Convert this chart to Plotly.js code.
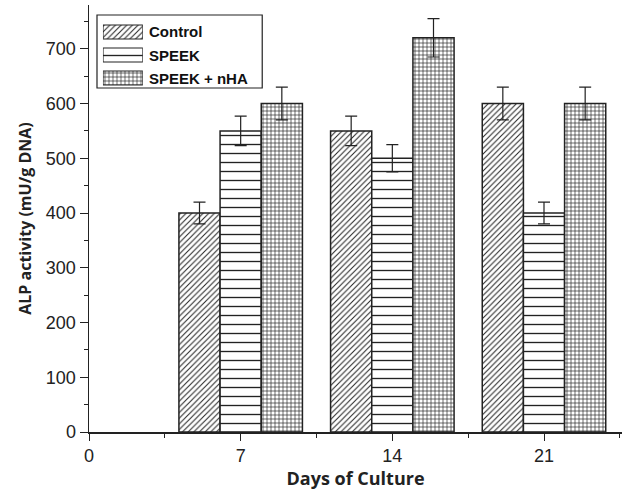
<!DOCTYPE html>
<html>
<head>
<meta charset="utf-8">
<script src="https://cdn.plot.ly/plotly-3.0.1.min.js"></script>
<style>html,body{margin:0;padding:0;background:#fff;}#chart{width:625px;height:490px;}</style>
</head>
<body>
<div id="chart"></div>
<script>
const days = [7, 14, 21];
const controlVals = [400, 550, 600];
const controlErr = [20, 27, 30];
const speekVals = [550, 500, 400];
const speekErr = [27, 25, 20];
const nhaVals = [600, 720, 600];
const nhaErr = [30, 35, 30];
const seriesNames = ['Control', 'SPEEK', 'SPEEK + nHA'];
const xTicks = [0, 7, 14, 21];
const yTicks = [0, 100, 200, 300, 400, 500, 600, 700];

const styles = [
  {offset: -2.85, shape: '/', size: 4, sol: 0.25},
  {offset: -0.95, shape: '-', size: 9, sol: 0.15},
  {offset: 0.95, shape: '+', size: 4, sol: 0.3}
];
function pat(s) {
  return {color: 'white', line: {color: '#222', width: 1.5},
    pattern: {shape: s.shape, size: s.size, solidity: s.sol, fgcolor: '#222', bgcolor: 'white'}};
}
function mk(i, vals, errs) {
  const s = styles[i];
  return {
    type: 'bar', name: seriesNames[i], x: days, y: vals,
    width: 1.9, offset: s.offset, showlegend: false,
    marker: pat(s),
    error_y: {type: 'data', array: errs, visible: true, color: '#222', thickness: 1.2, width: 6}
  };
}
const data = [
  mk(0, controlVals, controlErr),
  mk(1, speekVals, speekErr),
  mk(2, nhaVals, nhaErr)
];
// legend swatches (key only)
const rowY = [56, 33, 10];
const legY = [0.9368, 0.8829, 0.8290];
seriesNames.forEach((n, i) => {
  const m = pat(styles[i]); m.line.width = 1.2;
  data.push({type: 'bar', orientation: 'h', x: [1], y: [rowY[i]], width: 14,
    xaxis: 'x2', yaxis: 'y2', marker: m, showlegend: false, hoverinfo: 'skip'});
});
const annotations = seriesNames.map((n, i) => ({
  xref: 'paper', yref: 'paper', x: 0.108, y: legY[i], xanchor: 'left', yanchor: 'middle',
  text: n, showarrow: false, font: {family: 'Liberation Sans, Arial, sans-serif', size: 15, weight: 'bold', color: '#111'}
}));
const layout = {
  width: 625, height: 490,
  margin: {l: 89, r: 3, t: 5, b: 58},
  barmode: 'overlay',
  paper_bgcolor: 'white', plot_bgcolor: 'white',
  font: {family: 'Liberation Sans, Arial, sans-serif', color: '#222', size: 18},
  xaxis: {range: [0, 24.6], tickvals: xTicks, ticks: 'outside', ticklen: 7, tickcolor: '#222',
    tickfont: {size: 18, family: 'Liberation Sans, Arial, sans-serif'},
    showline: true, linecolor: '#222', linewidth: 1.5, showgrid: false, zeroline: false,
    minor: {tickvals: [3.5, 10.5, 17.5, 24.5], ticks: 'outside', ticklen: 4, tickcolor: '#222'},
    title: {text: 'Days of Culture', font: {family: 'Open Sans, sans-serif', size: 18, weight: 'bold'}, standoff: 4}},
  yaxis: {range: [0, 780], tickvals: yTicks, ticks: 'outside', ticklen: 8, tickcolor: '#222',
    tickfont: {size: 18, family: 'Liberation Sans, Arial, sans-serif'},
    showline: true, linecolor: '#222', linewidth: 1.5, showgrid: false, zeroline: false,
    minor: {dtick: 50, ticks: 'outside', ticklen: 4, tickcolor: '#222'},
    title: {text: 'ALP activity (mU/g DNA)', font: {family: 'Open Sans, sans-serif', size: 16, weight: 'bold'}, standoff: 10}},
  xaxis2: {domain: [0.0262, 0.101], range: [0, 1], anchor: 'y2', visible: false, fixedrange: true},
  yaxis2: {domain: [0.8056, 0.9766], range: [0, 73], anchor: 'x2', visible: false, fixedrange: true},
  shapes: [{type: 'rect', xref: 'paper', yref: 'paper', x0: 0.015, x1: 0.325, y0: 0.8056, y1: 0.9766,
    line: {color: '#222', width: 1.2}, fillcolor: 'rgba(0,0,0,0)', layer: 'above'}],
  annotations: annotations,
  showlegend: false
};
Plotly.newPlot('chart', data, layout, {displayModeBar: false, staticPlot: true});
</script>
</body>
</html>
